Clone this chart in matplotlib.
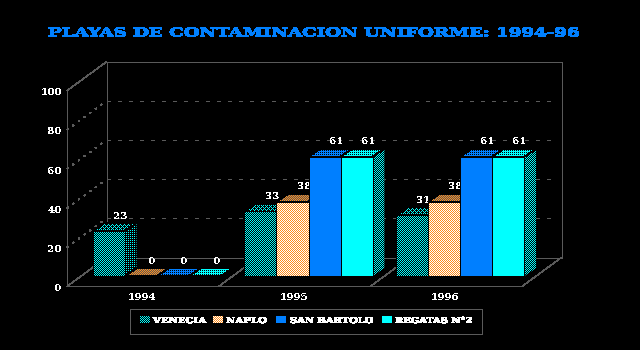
import numpy as np
import matplotlib
matplotlib.use("Agg")
import matplotlib.pyplot as plt
import matplotlib.patheffects as pe
from matplotlib.patches import Polygon, Rectangle
from matplotlib.transforms import Affine2D

years = ["1994", "1995", "1996"]
series = ["VENECIA", "NAPLO", "SAN BARTOLO", "REGATAS N°2"]
venecia = [23, 33, 31]
naplo = [0, 38, 38]
san_bartolo = [0, 61, 61]
regatas = [0, 61, 61]
yticks = [0, 20, 40, 60, 80, 100]
title = "PLAYAS DE CONTAMINACION UNIFORME: 1994-96"

W, H = 640, 350
CYAN = (0, 1, 1)
BLUE = (0, 0.5, 1)
ORANGE = (1, 0.55, 0.1)
WHITE = (1, 1, 1)
BLACK = (0, 0, 0)
DARK = (0.35, 0.35, 0.35)
GREY = "#5a5a5a"

fig = plt.figure(figsize=(W / 100, H / 100), dpi=100, facecolor="black")
ax = fig.add_axes([0, 0, 1, 1])
ax.axis("off")

# 0 -> px 67, 3 -> px 522 ; value 0 -> px 286.4, 100 -> px 90.7
cat_px = 151.67
val_px = 1.957
xlim = (-67 / cat_px, (W - 67) / cat_px)
ylim = (-(H - 286.4) / val_px, 286.4 / val_px)
ax.set_xlim(xlim)
ax.set_ylim(ylim)

# depth of the box
dx = 39.5 / cat_px
dy = 28.9 / val_px
# bars sit a bit behind the front edge
d0 = 0.36
depth_x, depth_y = 0.295, 0.27
bar_w = 0.2115
gap = 0.076


def line(xs, ys, **kw):
    kw.setdefault("color", GREY)
    kw.setdefault("lw", 0.72)
    kw.setdefault("zorder", 1)
    ax.plot(xs, ys, antialiased=False, solid_capstyle="butt", **kw)


dash = dict(linestyle=(0, (4, 7)), lw=0.72)
diag = dict(linestyle=(0, (3, 9)), lw=0.45)

# walls and floor
line([dx, dx, 3 + dx, 3 + dx, dx], [dy, 100 + dy, 100 + dy, dy, dy])
line([0, 0], [0, 100])
line([0, dx], [100, 100 + dy], lw=0.45)
line([0, 3], [0, 0])
line([3, 3 + dx], [0, dy], lw=0.45)
line([0, dx], [0, dy], lw=0.45)
for i in [1, 2]:
    line([i, i + dx], [0, dy], lw=0.45)
for v in yticks[1:-1]:
    line([dx, 3 + dx * 0.9], [v + dy, v + dy], **dash)
    line([0, dx], [v, v + dy], **diag)


def pattern(kind, c1, c2=BLACK):
    yy, xx = np.mgrid[0:H, 0:W]
    if kind == "checker":
        mask = (xx + yy) % 2 == 0
    elif kind == "dense":
        mask = ~((xx % 2 == 0) & (yy % 2 == 0))
    elif kind == "sparse":
        mask = (xx % 2 == 0) & (yy % 2 == 0)
    elif kind == "lattice":
        mask = ((xx + yy) % 4 == 0) | ((xx - yy) % 4 == 0)
    else:
        mask = np.ones((H, W), bool)
    img = np.zeros((H, W, 3))
    img[mask] = c1
    img[~mask] = c2
    return img


def fill(pts, img, z):
    p = Polygon(pts, closed=True, fc="none", ec="none", transform=ax.transData)
    ax.add_patch(p)
    im = ax.imshow(img, extent=(*xlim, *ylim), origin="upper", aspect="auto",
                   interpolation="nearest", zorder=z)
    im.set_clip_path(p)


def outline(pts, z):
    ax.add_patch(Polygon(pts, closed=True, fc="none", ec="black", lw=0.6,
                         antialiased=False, zorder=z))


# front, top, side patterns of each series
styles = [
    (pattern("checker", CYAN), pattern("lattice", CYAN), pattern("sparse", CYAN)),
    (pattern("checker", ORANGE, WHITE), pattern("checker", ORANGE, DARK), pattern("checker", ORANGE)),
    (pattern("solid", BLUE), pattern("dense", BLUE), pattern("checker", BLUE)),
    (pattern("solid", CYAN), pattern("dense", CYAN), pattern("checker", CYAN)),
]
values = [venecia, naplo, san_bartolo, regatas]

z = 2
for i in range(len(years)):
    for j in range(len(series)):
        v = values[j][i]
        front, top, side = styles[j]
        x0 = i + gap + j * bar_w + d0 * dx
        x1 = x0 + bar_w
        y0 = d0 * dy
        y1 = y0 + v
        ox = depth_x * dx
        oy = depth_y * dy
        if j == 3 or v > 0 and values[j + 1][i] < v:
            fill([(x1, y0), (x1 + ox, y0 + oy), (x1 + ox, y1 + oy), (x1, y1)], side, z)
        top_pts = [(x0, y1), (x0 + ox, y1 + oy), (x1 + ox, y1 + oy), (x1, y1)]
        fill(top_pts, top, z + 0.1)
        outline(top_pts, z + 0.15)
        if v > 0:
            fill([(x0, y0), (x1, y0), (x1, y1), (x0, y1)], front, z + 0.2)
            ax.add_patch(Rectangle((x0, y0), bar_w, v, fc="none", ec="black", lw=0.72,
                                   antialiased=False, zorder=z + 0.3))
        ax.text((x0 + x1) / 2 + ox, y1 + oy + 7 / val_px, str(v), color="white",
                family="DejaVu Serif", weight="bold", fontsize=7.5, ha="center", va="center",
                zorder=z + 0.4, antialiased=False)
        z += 1

for v in yticks:
    ax.text(-5 / cat_px, v - 1.1, str(v), color="white", family="DejaVu Serif", weight="bold",
            fontsize=7.5, ha="right", va="center", antialiased=False)
for i, y in enumerate(years):
    ax.text(i + 0.495, -5.6, y, color="white", family="DejaVu Serif", weight="bold",
            fontsize=7.5, ha="center", va="center", antialiased=False)


class Stretch(pe.AbstractPathEffect):
    # wide bitmap look of the old font, text stays a Text
    def __init__(self, sx):
        super().__init__()
        self.sx = sx

    def draw_path(self, renderer, gc, tpath, affine, rgbFace=None):
        renderer.draw_path(gc, tpath, Affine2D().scale(self.sx, 1) + affine, rgbFace)


pixel = Affine2D().scale(1, -1).translate(0, H)
fig.canvas.draw()
rend = fig.canvas.get_renderer()


def wide_text(s, left, right, y, size, color):
    t = ax.text(left, y, s, color=color, family="DejaVu Serif", weight="bold", fontsize=size,
                ha="left", va="center", transform=pixel, antialiased=False, zorder=500)
    w = t.get_window_extent(rend).width
    t.set_path_effects([Stretch((right - left) / w)])


wide_text(title, 48, 580, 33, 8.9, BLUE)

# legend
ax.add_patch(Rectangle((129.5, 308.5), 352, 25, fc="none", ec=GREY, lw=0.72, transform=pixel,
                       antialiased=False, zorder=500))
swatch_x = [140, 213, 276, 382]
label_x = [(153, 206), (226, 267), (290, 373), (395, 472)]
for j, name in enumerate(series):
    sx = swatch_x[j]
    pts = pixel.transform([(sx, 316), (sx + 10, 316), (sx + 10, 323), (sx, 323)])
    pts = ax.transData.inverted().transform(pts)
    fill(pts, styles[j][0], 500)
    wide_text(name, label_x[j][0], label_x[j][1], 321, 5.8, WHITE)

fig.savefig("out.png", dpi=100, facecolor="black")
